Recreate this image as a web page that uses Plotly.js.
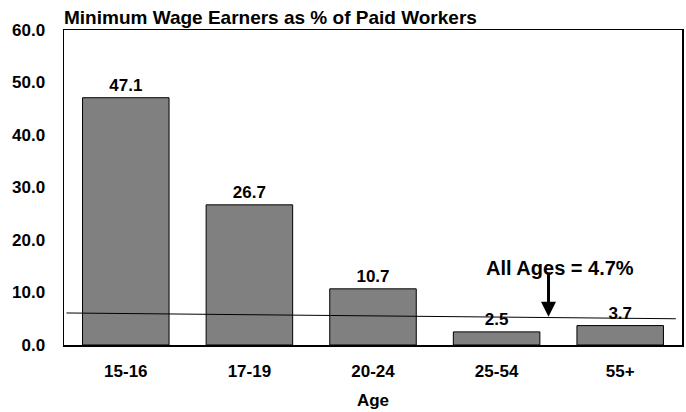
<!DOCTYPE html>
<html>
<head>
<meta charset="utf-8">
<script src="https://cdn.plot.ly/plotly-3.0.1.min.js"></script>
<style>html,body{margin:0;padding:0;background:#fff;}#chart{width:686px;height:412px;}</style>
</head>
<body>
<div id="chart"></div>
<script>
// Data
var categories = ["15-16", "17-19", "20-24", "25-54", "55+"];
var shares = [47.1, 26.7, 10.7, 2.5, 3.7];
var barLabels = ["47.1", "26.7", "10.7", "2.5", "3.7"];
var refLineX = [-0.48, 4.45];
var refLineY = [6.1, 5.0];
var allAgesText = "All Ages = 4.7%";
var arrowX = 3.42;
var arrowY = 5.4;

var FONT = "Arial, 'Liberation Sans', sans-serif";
var idx = categories.map(function (c, i) { return i; });

var bars = {
  type: "bar",
  x: idx,
  y: shares,
  width: 0.7,
  text: barLabels.map(function (t) { return "<b>" + t + "</b>"; }),
  textposition: "outside",
  cliponaxis: false,
  textfont: { family: FONT, size: 17, color: "#000" },
  marker: { color: "#808080", line: { color: "#000", width: 1 } },
  hoverinfo: "none"
};

var refLine = {
  type: "scatter",
  mode: "lines",
  x: refLineX,
  y: refLineY,
  line: { color: "#000", width: 1 },
  hoverinfo: "none"
};

var layout = {
  width: 686,
  height: 412,
  margin: { l: 64, r: 4, t: 30, b: 67 },
  paper_bgcolor: "#fff",
  plot_bgcolor: "#fff",
  showlegend: false,
  font: { family: FONT, color: "#000" },
  title: {
    text: "<b>Minimum Wage Earners as % of Paid Workers</b>",
    font: { family: FONT, size: 19, color: "#000" },
    x: 64 / 686, xanchor: "left", xref: "container",
    y: 1 - 17 / 412, yanchor: "middle", yref: "container"
  },
  xaxis: {
    range: [-0.5, 4.5],
    tickvals: idx,
    ticktext: categories.map(function (c) { return "<b>" + c + "</b>"; }),
    tickfont: { family: FONT, size: 17, color: "#000" },
    ticks: "",
    showgrid: false,
    zeroline: false,
    showline: true,
    linecolor: "#000",
    linewidth: 1.5,
    mirror: true,
    ticklabelstandoff: 10,
    title: { text: "<b>Age</b>", font: { family: FONT, size: 17, color: "#000" }, standoff: 14 }
  },
  yaxis: {
    range: [0, 60],
    dtick: 10,
    tick0: 0,
    tickformat: ".1f",
    tickprefix: "<b>",
    ticksuffix: "</b>",
    tickfont: { family: FONT, size: 17, color: "#000" },
    ticks: "",
    showgrid: false,
    zeroline: false,
    showline: true,
    linecolor: "#000",
    linewidth: 1.5,
    mirror: true,
    ticklabelstandoff: 14
  },
  annotations: [
    {
      x: arrowX, y: arrowY, xref: "x", yref: "y",
      text: "", showarrow: true,
      ax: 0, ay: -46,
      arrowhead: 2, arrowsize: 1, arrowwidth: 3, arrowcolor: "#000",
      standoff: 0
    },
    {
      x: arrowX + 0.09, y: arrowY, xref: "x", yref: "y",
      yshift: 49,
      text: "<b>" + allAgesText + "</b>",
      showarrow: false,
      font: { family: FONT, size: 20, color: "#000" },
      xanchor: "center", yanchor: "middle"
    }
  ]
};

Plotly.newPlot("chart", [bars, refLine], layout, { displayModeBar: false, staticPlot: true });
</script>
</body>
</html>
